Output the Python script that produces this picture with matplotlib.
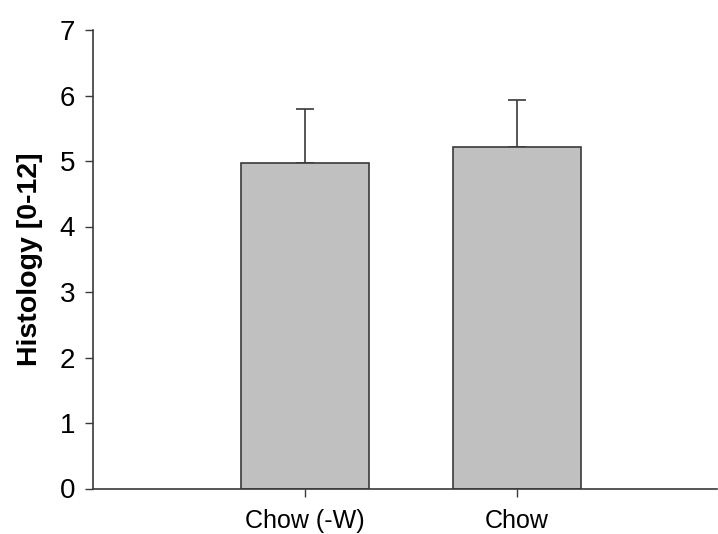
import matplotlib.pyplot as plt

categories = ["Chow (-W)", "Chow"]
means = [4.97, 5.21]
errors = [0.82, 0.72]

BAR_COLOR = "#c0c0c0"
EDGE_COLOR = "#3a3a3a"

plt.rcParams["font.family"] = ["Liberation Sans", "DejaVu Sans"]

fig = plt.figure(figsize=(7.18, 5.34), dpi=100)
ax = fig.add_axes([93 / 718, 45.5 / 534, 624 / 718, 458.5 / 534])

x = list(range(len(categories)))
ax.bar(x, means, width=0.6, color=BAR_COLOR, edgecolor=EDGE_COLOR, linewidth=1.2, zorder=2)
ax.errorbar(x, means, yerr=[[0] * len(errors), errors], fmt="none",
            ecolor=EDGE_COLOR, elinewidth=1.2, capsize=6.5, capthick=1.2, zorder=1)

ax.set_xlim(-1.0, 1.943)
ax.set_ylim(0, 7)
ax.set_yticks(range(0, 8))
ax.set_xticks(x)
ax.set_xticklabels(categories, fontsize=18)
ax.tick_params(axis="y", labelsize=20, length=5.5, width=1, color=EDGE_COLOR, pad=7.5)
ax.tick_params(axis="x", length=5.5, width=1, color=EDGE_COLOR, pad=9.5)

for side in ["top", "right"]:
    ax.spines[side].set_visible(False)
for side in ["left", "bottom"]:
    ax.spines[side].set_color(EDGE_COLOR)
    ax.spines[side].set_linewidth(1.2)

ax.set_ylabel("Histology [0-12]", fontsize=20.5, fontweight="bold", labelpad=12)

fig.savefig("out.png", dpi=100)
